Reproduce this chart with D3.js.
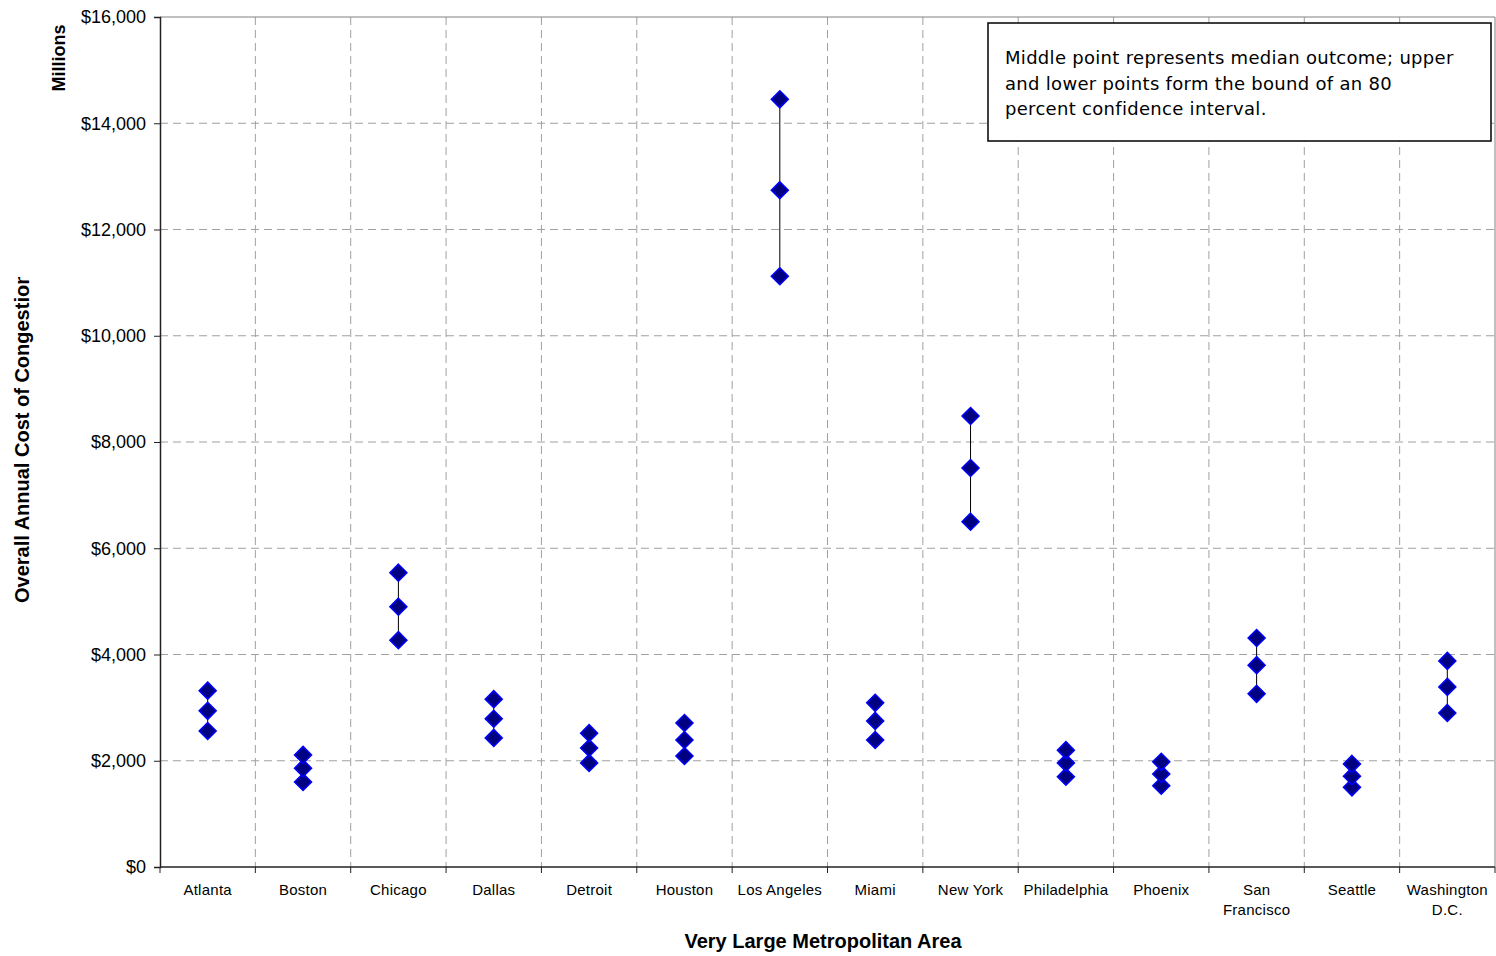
<!DOCTYPE html>
<html><head><meta charset="utf-8">
<script src="https://cdn.jsdelivr.net/npm/d3@7"></script>
<style>body{margin:0;background:#fff;} svg{display:block;}</style>
</head><body>
<script>
const cities = ["Atlanta","Boston","Chicago","Dallas","Detroit","Houston","Los Angeles","Miami","New York","Philadelphia","Phoenix","San Francisco","Seattle","Washington D.C."];
const cityLines = [["Atlanta"],["Boston"],["Chicago"],["Dallas"],["Detroit"],["Houston"],["Los Angeles"],["Miami"],["New York"],["Philadelphia"],["Phoenix"],["San","Francisco"],["Seattle"],["Washington","D.C."]];
const upper  = [3320,2110,5540,3160,2520,2710,14450,3090,8490,2200,1980,4310,1940,3880];
const median = [2940,1860,4900,2790,2240,2390,12740,2750,7510,1960,1750,3800,1710,3390];
const lower  = [2560,1600,4270,2430,1960,2090,11120,2390,6500,1700,1530,3260,1500,2900];
const yTicks = [0,2000,4000,6000,8000,10000,12000,14000,16000];

const W=1496,H=956;
const L=160,R=1495,T=17,B=867;
const svg=d3.select("body").append("svg").attr("width",W).attr("height",H);
const x=d3.scaleBand().domain(cities).range([L,R]).padding(0);
const y=d3.scaleLinear().domain([0,16000]).range([B,T]);
const fmt=v=>"$"+d3.format(",")(v);

// gridlines
svg.append("g").selectAll("line").data(yTicks.filter(d=>d>0&&d<16000)).join("line")
 .attr("x1",L).attr("x2",R).attr("y1",d=>y(d)).attr("y2",d=>y(d))
 .attr("stroke","#a0a0a0").attr("stroke-dasharray","8,5").attr("stroke-width",1);
svg.append("g").selectAll("line").data(cities.slice(1)).join("line")
 .attr("x1",d=>x(d)).attr("x2",d=>x(d)).attr("y1",T).attr("y2",B)
 .attr("stroke","#a0a0a0").attr("stroke-dasharray","8,5").attr("stroke-width",1);
// top & right border
svg.append("line").attr("x1",L).attr("x2",R).attr("y1",T).attr("y2",T).attr("stroke","#808080");
svg.append("line").attr("x1",R).attr("x2",R).attr("y1",T).attr("y2",B).attr("stroke","#808080");

// y axis
const ya=svg.append("g").attr("transform",`translate(${L},0)`)
 .call(d3.axisLeft(y).tickValues(yTicks).tickFormat(fmt).tickSize(6).tickPadding(8));
ya.select(".domain").attr("stroke","#222").attr("stroke-width",1.5);
ya.selectAll(".tick line").attr("stroke","#222");
ya.selectAll("text").attr("font-family","Arial, Liberation Sans, sans-serif").attr("font-size",18).attr("fill","#000");

// x axis
const xa=svg.append("g").attr("transform",`translate(0,${B})`);
xa.append("line").attr("x1",L).attr("x2",R).attr("stroke","#222").attr("stroke-width",1.5);
const bounds=cities.map(c=>x(c)).concat([R]);
xa.selectAll("line.tk").data(bounds).join("line").attr("class","tk")
 .attr("x1",d=>d).attr("x2",d=>d).attr("y1",0).attr("y2",6).attr("stroke","#222");
const xl=xa.selectAll("text.lbl").data(cities).join("text").attr("class","lbl")
 .attr("x",d=>x(d)+x.bandwidth()/2).attr("y",28)
 .attr("text-anchor","middle").attr("font-family","Arial, Liberation Sans, sans-serif")
 .attr("font-size",15).attr("letter-spacing","0.25").attr("fill","#000");
xl.each(function(d,i){
  d3.select(this).selectAll("tspan").data(cityLines[i]).join("tspan")
   .attr("x",x(d)+x.bandwidth()/2).attr("dy",(t,j)=>j===0?0:20).text(t=>t);
});

// range lines
const cx=d=>x(d)+x.bandwidth()/2;
svg.append("g").selectAll("line").data(cities).join("line")
 .attr("x1",cx).attr("x2",cx).attr("y1",(d,i)=>y(upper[i])).attr("y2",(d,i)=>y(lower[i]))
 .attr("stroke","#000").attr("stroke-width",1);
// markers
const diamond=d3.symbol().type(d3.symbolDiamond2).size(185);
[lower,median,upper].forEach(arr=>{
  svg.append("g").selectAll("path").data(cities).join("path")
   .attr("transform",(d,i)=>`translate(${cx(d)},${y(arr[i])})`)
   .attr("d",diamond).attr("fill","#000080").attr("stroke","#0000ff").attr("stroke-width",1.5);
});

// legend box
svg.append("rect").attr("x",988).attr("y",23).attr("width",503).attr("height",118)
 .attr("fill","#fff").attr("stroke","#000").attr("stroke-width",1.5);
const note=["Middle point represents median outcome; upper","and lower points form the bound of an 80","percent confidence interval."];
svg.append("g").selectAll("text").data(note).join("text")
 .attr("x",1005).attr("y",(d,i)=>64+i*25.5).text(d=>d)
 .attr("font-family","Verdana, DejaVu Sans, sans-serif").attr("font-size",18).attr("letter-spacing","0.3").attr("fill","#000");

// axis titles
svg.append("text").attr("transform","translate(823,948)").attr("text-anchor","middle")
 .attr("font-family","Arial, Liberation Sans, sans-serif").attr("font-weight","bold").attr("font-size",20)
 .text("Very Large Metropolitan Area");
svg.append("text").attr("transform","translate(65,58) rotate(-90)").attr("text-anchor","middle")
 .attr("font-family","Arial, Liberation Sans, sans-serif").attr("font-weight","bold").attr("font-size",18)
 .text("Millions");
svg.append("clipPath").attr("id","yc").append("rect").attr("x",0).attr("y",277).attr("width",60).attr("height",400);
svg.append("g").attr("clip-path","url(#yc)").append("text")
 .attr("transform","translate(29,603) rotate(-90)").attr("text-anchor","start")
 .attr("font-family","Arial, Liberation Sans, sans-serif").attr("font-weight","bold").attr("font-size",20)
 .text("Overall Annual Cost of Congestion");
</script>
</body></html>
